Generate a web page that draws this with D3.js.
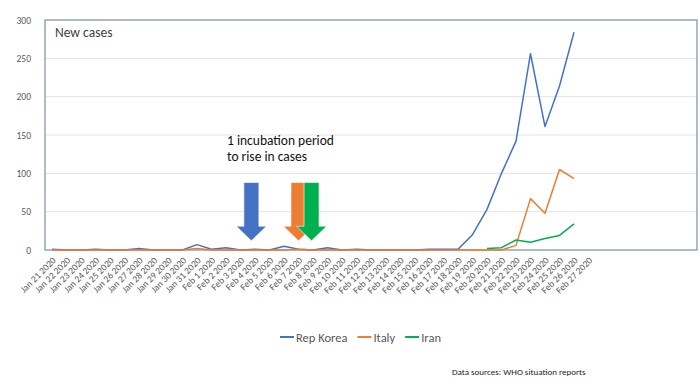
<!DOCTYPE html>
<html>
<head>
<meta charset="utf-8">
<script src="https://cdnjs.cloudflare.com/ajax/libs/d3/7.8.5/d3.min.js"></script>
<style>
  body { margin: 0; background: #fff; }
  svg { font-family: Carlito, Lato, "Liberation Sans", sans-serif; }
</style>
</head>
<body>
<svg width="700" height="387"></svg>
<script>
const svg = d3.select("svg");
const width = +svg.attr("width");
const height = +svg.attr("height");
const font = "Carlito, Lato, 'Liberation Sans', sans-serif";

// categories (x axis tick labels)
const dates = [
    "Jan 21 2020", "Jan 22 2020", "Jan 23 2020", "Jan 24 2020", "Jan 25 2020",
    "Jan 26 2020", "Jan 27 2020", "Jan 28 2020", "Jan 29 2020", "Jan 30 2020",
    "Jan 31 2020", "Feb 1 2020", "Feb 2 2020", "Feb 3 2020", "Feb 4 2020",
    "Feb 5 2020", "Feb 6 2020", "Feb 7 2020", "Feb 8 2020", "Feb 9 2020",
    "Feb 10 2020", "Feb 11 2020", "Feb 12 2020", "Feb 13 2020", "Feb 14 2020",
    "Feb 15 2020", "Feb 16 2020", "Feb 17 2020", "Feb 18 2020", "Feb 19 2020",
    "Feb 20 2020", "Feb 21 2020", "Feb 22 2020", "Feb 23 2020", "Feb 24 2020",
    "Feb 25 2020", "Feb 26 2020", "Feb 27 2020"
];

// new cases per day (null = no value)
const korea = [1, 0, 0, 1, 0, 0, 2, 0, 0, 0, 7, 1, 3, 0, 1, 0, 5, 1, 0, 3,
    0, 1, 0, 0, 0, 0, 1, 1, 1, 20, 53, 100, 142, 256, 161, 214, 284, null];
const italy = [0, 0, 0, 0, 0, 0, 0, 0, 0, 0, 2, 0, 0, 0, 0, 0, 0, 1, 0, 0,
    0, 0, 0, 0, 0, 0, 0, 0, 0, 0, 0, 0, 6, 67, 48, 105, 93, null];
const iran = [null, null, null, null, null, null, null, null, null, null, null, null, null, null, null, null, null, null, null, null,
    null, null, null, null, null, null, null, null, null, null, 2, 3, 13, 10, 15, 19, 34, null];

const yTicks = [0, 50, 100, 150, 200, 250, 300];

const series = [
    { name: "Rep Korea", values: korea, color: "#4472C4" },
    { name: "Italy", values: italy, color: "#ED7D31" },
    { name: "Iran", values: iran, color: "#00B050" }
];

// annotation arrows: date they point at, small shift in steps, colour
const arrows = [
    { date: "Feb 4 2020", shift: -0.25, color: "#4472C4" },
    { date: "Feb 7 2020", shift: 0, color: "#ED7D31" },
    { date: "Feb 8 2020", shift: -0.1, color: "#00B050" }
];

const margin = { top: 20, right: 3, bottom: 137, left: 45 };
const innerWidth = width - margin.left - margin.right;
const innerHeight = height - margin.top - margin.bottom;

// the category axis only fills part of the plot, the rest is empty
const step = 14.5;
const xScale = d3.scalePoint()
    .domain(dates)
    .range([7, 7 + step * (dates.length - 1)]);

const yScale = d3.scaleLinear()
    .domain([0, 300])
    .range([innerHeight, 0]);

const g = svg.append("g")
    .attr("transform", `translate(${margin.left}, ${margin.top})`);

// gridlines
g.append("g")
    .selectAll("line")
    .data(yTicks.filter(d => d > 0 && d < 300))
    .enter().append("line")
        .attr("x1", 0)
        .attr("x2", innerWidth)
        .attr("y1", d => yScale(d))
        .attr("y2", d => yScale(d))
        .attr("stroke", "#e3e3e3")
        .attr("stroke-width", 1);

// y axis labels
const yAxis = g.append("g")
    .call(d3.axisLeft(yScale).tickValues(yTicks).tickSize(0).tickPadding(14))
    .attr("font-family", font);
yAxis.select(".domain").remove();
yAxis.selectAll("text")
    .attr("fill", "#595959")
    .style("font-size", "9.5px");

// x axis labels, rotated
const xAxis = g.append("g")
    .attr("transform", `translate(0, ${innerHeight})`)
    .call(d3.axisBottom(xScale).tickSize(0))
    .attr("font-family", font);
xAxis.select(".domain").remove();
xAxis.selectAll("text")
    .attr("fill", "#595959")
    .style("font-size", "9.5px")
    .attr("text-anchor", "end")
    .attr("dy", null)
    .attr("y", 0)
    .attr("transform", "translate(4, 11) rotate(-45)");

// plot frame
g.append("rect")
    .attr("x", 0)
    .attr("y", 0)
    .attr("width", innerWidth)
    .attr("height", innerHeight)
    .attr("fill", "none")
    .attr("stroke", "#8497B0")
    .attr("stroke-width", 1.3);

g.append("text")
    .attr("x", 10)
    .attr("y", 17)
    .attr("fill", "#404040")
    .style("font-size", "13.5px")
    .text("New cases");

// lines
const line = d3.line()
    .defined(d => d.v !== null)
    .x(d => xScale(d.date))
    .y(d => yScale(d.v));

g.selectAll(".series").data(series)
    .enter().append("path")
        .attr("class", "series")
        .attr("fill", "none")
        .attr("stroke", d => d.color)
        .attr("stroke-width", 1.5)
        .attr("stroke-linejoin", "round")
        .attr("d", d => line(d.values.map((v, i) => ({ date: dates[i], v: v }))));

// annotation
const note = g.append("text")
    .attr("x", 182)
    .attr("y", 125)
    .attr("fill", "#111")
    .style("font-size", "13.5px");
note.append("tspan").attr("x", 182).text("1 incubation period");
note.append("tspan").attr("x", 182).attr("dy", 16).text("to rise in cases");

const arrowPath = (cx) => {
    const top = yScale(88), neck = yScale(31), tip = yScale(12);
    const sw = 7.5, hw = 15;
    return `M${cx - sw},${top} L${cx + sw},${top} L${cx + sw},${neck} L${cx + hw},${neck}
            L${cx},${tip} L${cx - hw},${neck} L${cx - sw},${neck} Z`;
};

g.selectAll(".arrow").data(arrows)
    .enter().append("path")
        .attr("class", "arrow")
        .attr("fill", d => d.color)
        .attr("stroke", "#fff")
        .attr("stroke-width", 0.6)
        .attr("d", d => arrowPath(xScale(d.date) + d.shift * step));

// legend
const legend = svg.append("g")
    .attr("transform", "translate(280, 337)");
let lx = 0;
series.forEach(s => {
    const item = legend.append("g").attr("transform", `translate(${lx}, 0)`);
    item.append("line")
        .attr("x1", 0).attr("x2", 14)
        .attr("y1", 0).attr("y2", 0)
        .attr("stroke", s.color)
        .attr("stroke-width", 2);
    const t = item.append("text")
        .attr("x", 16)
        .attr("y", 4.5)
        .attr("fill", "#595959")
        .style("font-size", "12.5px")
        .text(s.name);
    lx += 16 + t.node().getComputedTextLength() + 10;
});

svg.append("text")
    .attr("x", 452)
    .attr("y", 375)
    .attr("fill", "#222")
    .style("font-size", "9px")
    .text("Data sources: WHO situation reports");
</script>
</body>
</html>
